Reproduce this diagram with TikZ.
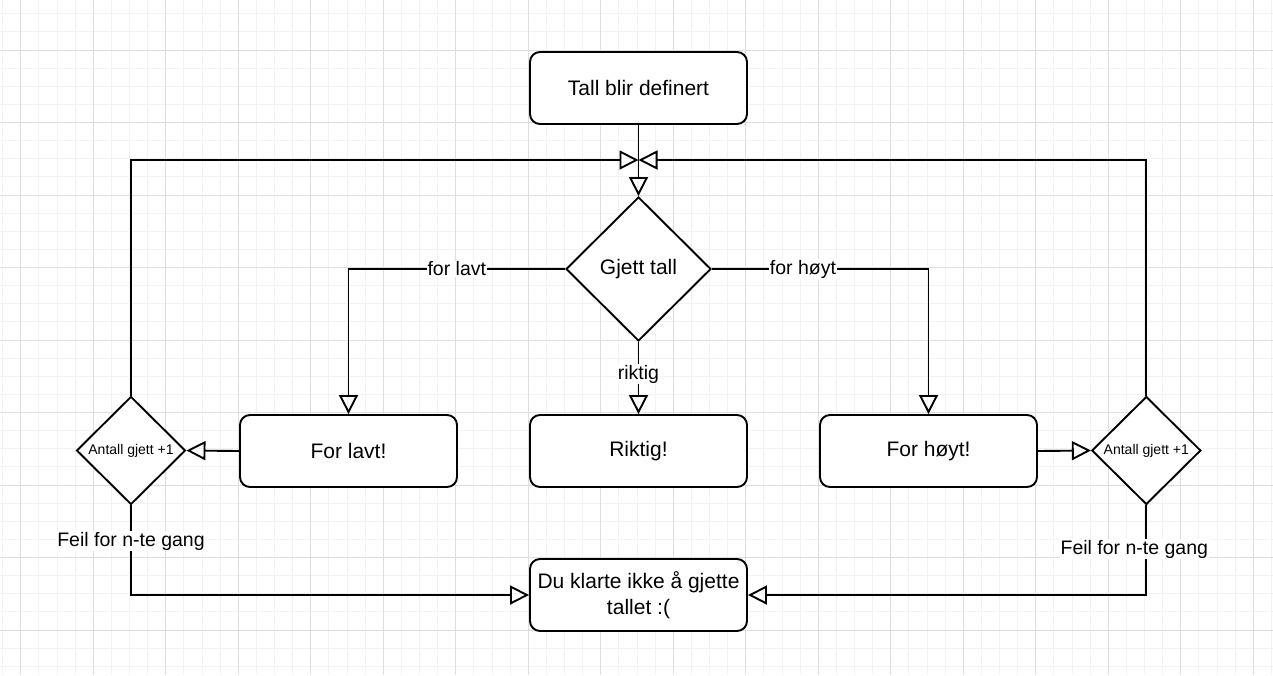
\documentclass[tikz,border=0pt]{standalone}
\usepackage{fontspec}
\setmainfont{Liberation Sans}
\usetikzlibrary{arrows.meta,shapes.geometric}
\begin{document}
\begin{tikzpicture}[x=1pt,y=-1pt,
  box/.style={draw, line width=1.9pt, rounded corners=10pt, minimum width=217pt, minimum height=72pt, align=center, font=\fontsize{21}{25.7}\selectfont, inner sep=0pt, fill=white},
  dec/.style={draw, diamond, aspect=1, line width=1.9pt, inner sep=0pt, fill=white},
  conn/.style={line width=1.9pt, -{Triangle[open, length=19pt, width=19pt]}},
  lbl/.style={fill=white, inner sep=1pt, font=\fontsize{19.5}{22}\selectfont},
  minorgrid/.style={draw=black!5, line width=0.8pt},
  majorgrid/.style={draw=black!13, line width=0.8pt}
]
\useasboundingbox (0,0) rectangle (1273,675);
\fill[white] (0,0) rectangle (1273,675);
% grid
\foreach \i in {-1,...,69} {\draw[minorgrid] ({20.7+18.125*\i},0) -- ({20.7+18.125*\i},675);}
\foreach \j in {-2,...,34} {\draw[minorgrid] (0,{50+18.125*\j}) -- (1273,{50+18.125*\j});}
\foreach \i in {0,...,17} {\draw[majorgrid] ({20.7+72.5*\i},0) -- ({20.7+72.5*\i},675);}
\foreach \j in {0,...,8} {\draw[majorgrid] (0,{50+72.5*\j}) -- (1273,{50+72.5*\j});}

% nodes
\node[box] (tall) at (638.5,88) {Tall blir definert};
\node[dec, minimum width=145pt, minimum height=144pt, font=\fontsize{21}{25}\selectfont] (gj) at (638.5,269) {Gjett tall};
\node[box] (lavt) at (348.5,451) {For lavt!};
\node[box] (rikt) at (638.5,451) {Riktig!};
\node[box] (hoyt) at (928.5,451) {For høyt!};
\node[dec, minimum width=109pt, minimum height=108pt, font=\fontsize{14}{16}\selectfont] (ld) at (131,450.5) {Antall gjett +1};
\node[dec, minimum width=109pt, minimum height=108pt, font=\fontsize{14}{16}\selectfont] (rd) at (1146.3,450.5) {Antall gjett +1};
\node[box] (feil) at (638.5,595) {Du klarte ikke å gjette\\tallet :(};
\coordinate (j) at (638.5,160);

% connectors
\draw[conn] (tall) -- (gj);
\draw[conn] (gj.west) -| node[lbl, pos=0.25] {for lavt} (lavt.north);
\draw[conn] (gj.east) -| node[lbl, pos=0.21] {for høyt} (hoyt.north);
\draw[conn] (gj.south) -- node[lbl, pos=0.45] {riktig} (rikt.north);
\draw[conn] (lavt.west) -- (ld.east);
\draw[conn] (hoyt.east) -- (rd.west);
\draw[conn] (ld.north) |- (j);
\draw[conn] (rd.north) |- (j);
\draw[conn] (ld.south) |- node[lbl, pos=0.2] {Feil for n-te gang} (feil.west);
\draw[conn] (rd.south) |- node[lbl, pos=0.245, xshift=-12pt] {Feil for n-te gang} (feil.east);
\end{tikzpicture}
\end{document}
